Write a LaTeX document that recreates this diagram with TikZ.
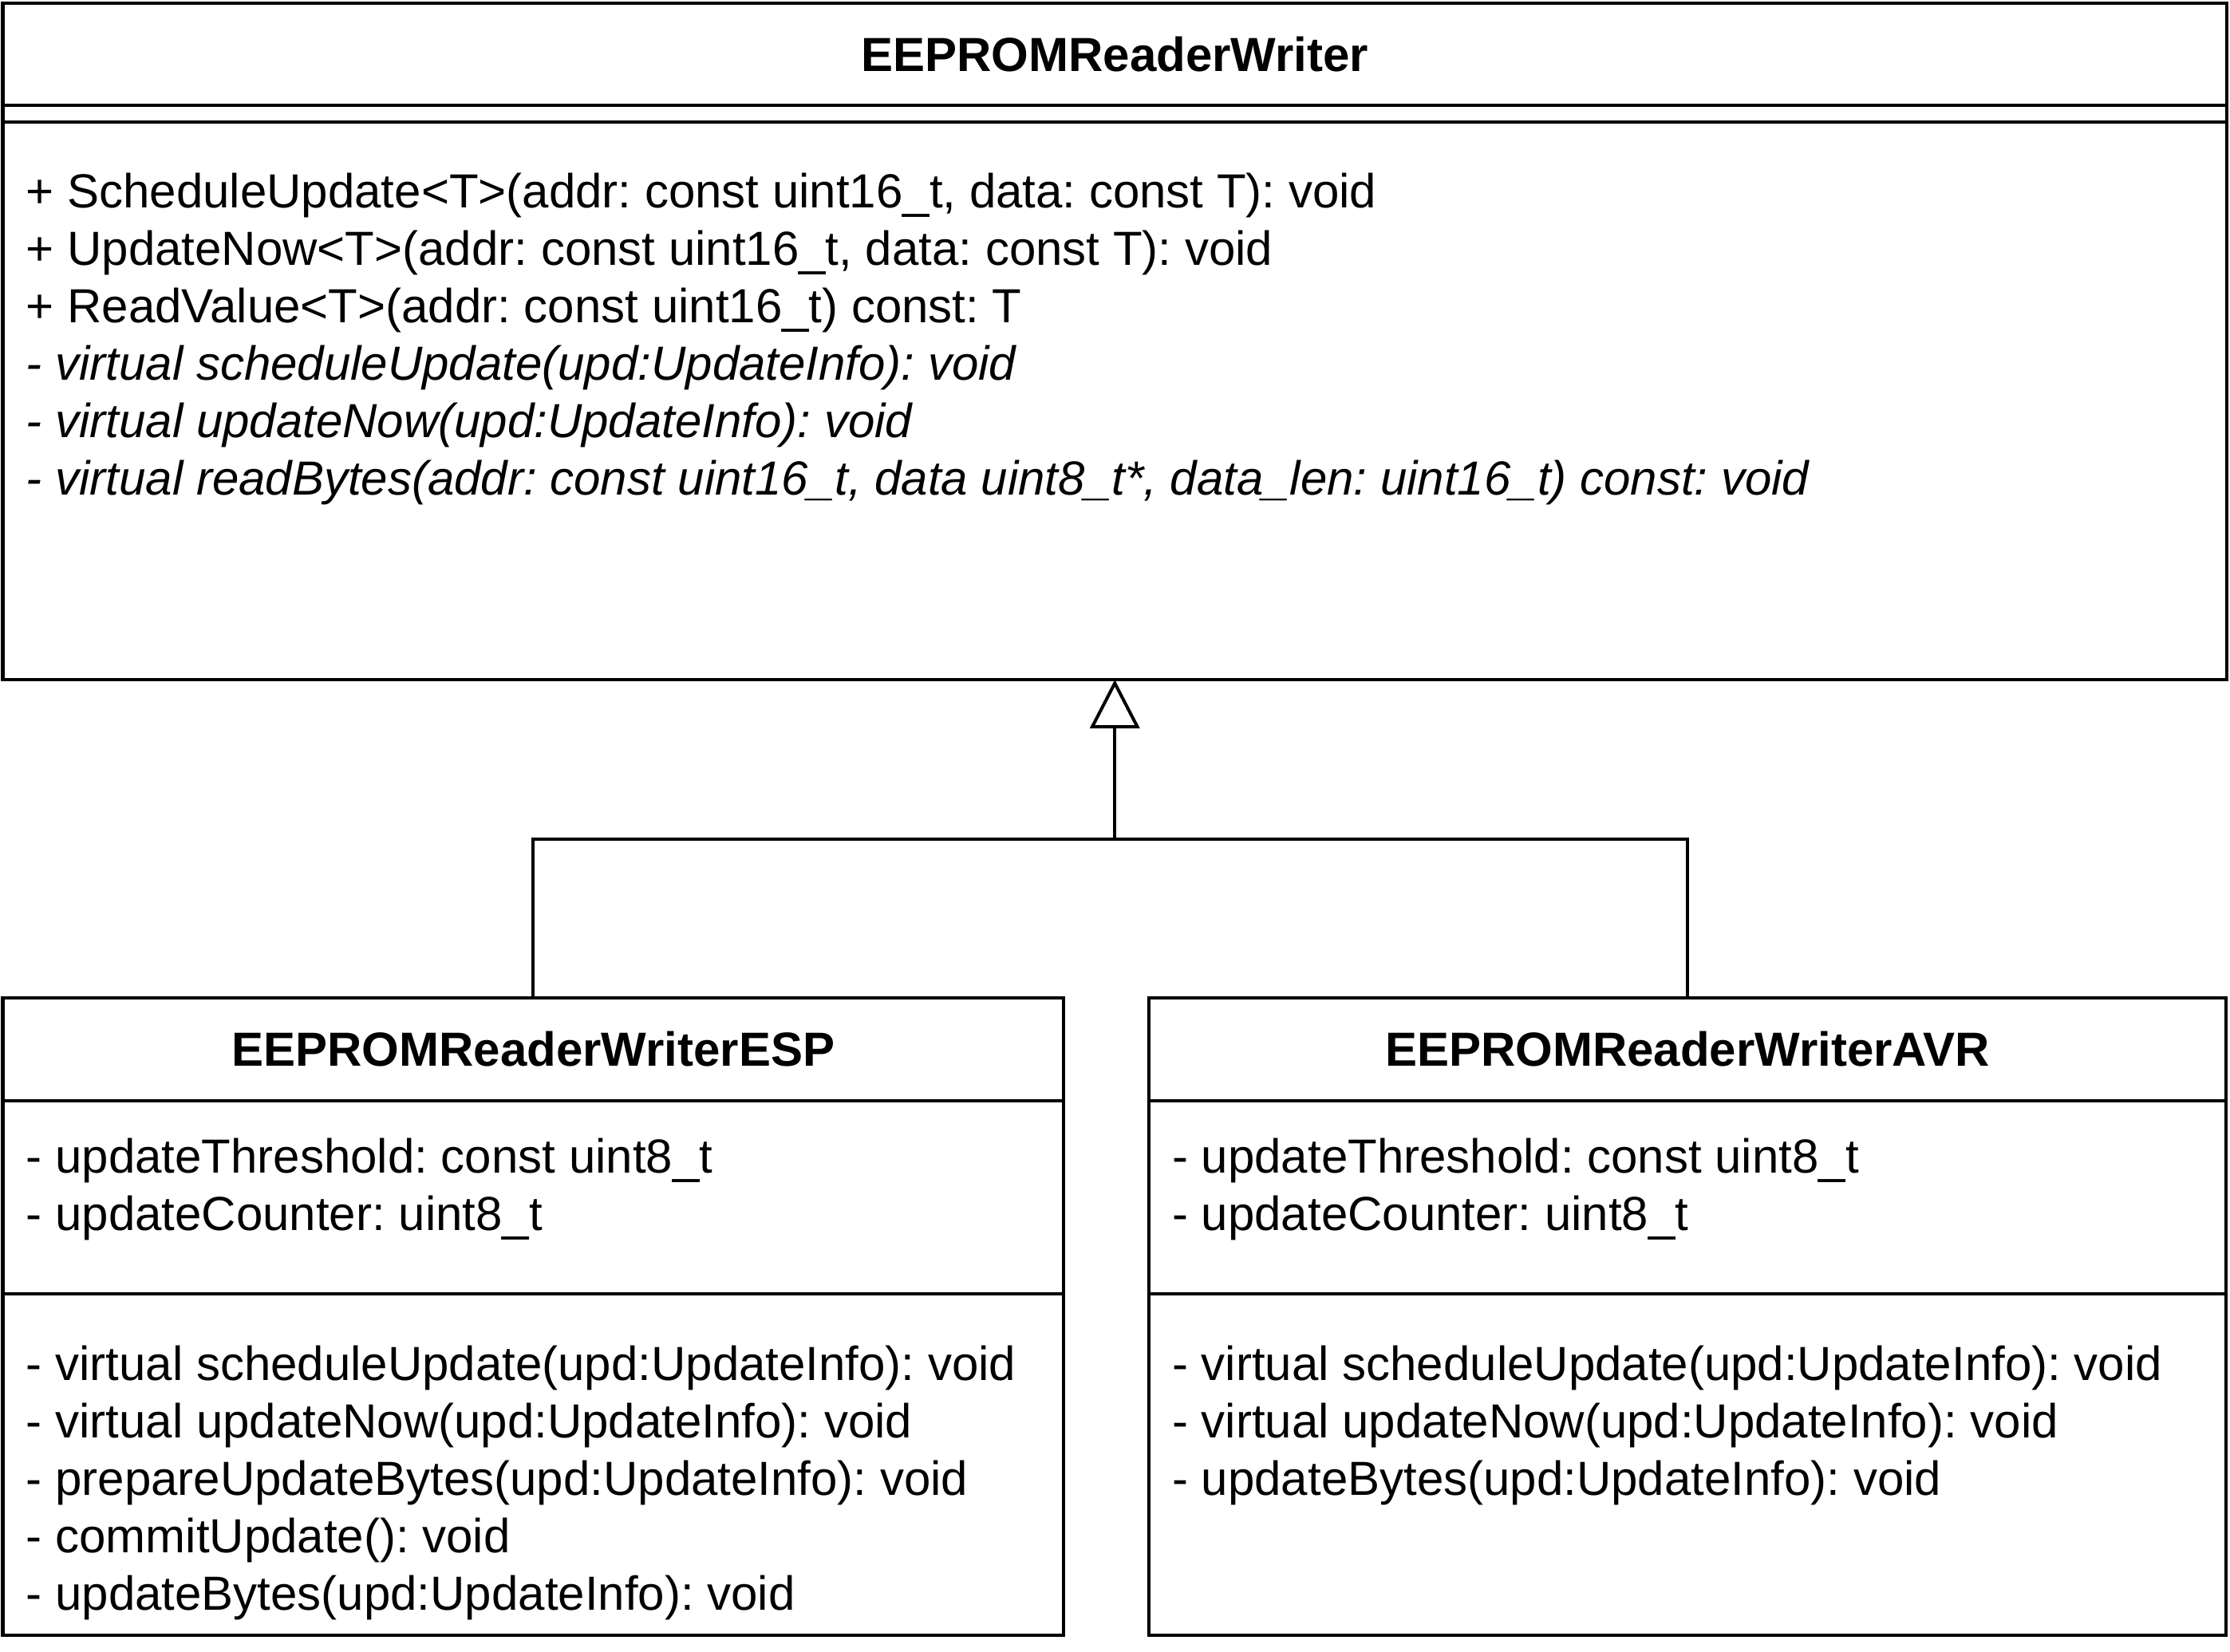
\documentclass[tikz,border=0pt]{standalone}
\usepackage{fontspec}
\setmainfont{Liberation Sans}
\frenchspacing
\usetikzlibrary{positioning,arrows.meta}
\tikzset{
  every node/.style={font=\fontsize{15}{18}\selectfont},
  part/.style={draw, line width=1pt, anchor=north west, inner sep=0pt, outer sep=0pt},
  member/.style={anchor=west, inner sep=0pt, text height=10.75pt, text depth=0pt},
  inherit/.style={line width=1pt},
}
\begin{document}
\begin{tikzpicture}
  \useasboundingbox (0,0) rectangle (698.75pt,-517.5pt);
  % base class
  \node[part, minimum width=696.875pt, minimum height=32.125pt] (baseHead) at (0.875pt,-0.875pt) {\bfseries EEPROMReaderWriter};
  \node[part, minimum width=696.875pt, minimum height=5.25pt, below=0pt of baseHead] (baseAttr) {};
  \node[part, minimum width=696.875pt, minimum height=174.75pt, below=0pt of baseAttr] (baseOps) {};
  \foreach \txt [count=\i] in {%
      {+ ScheduleUpdate<T>(addr: const uint16\_t, data: const T): void},
      {+ UpdateNow<T>(addr: const uint16\_t, data: const T): void},
      {+ ReadValue<T>(addr: const uint16\_t) const: T},
      {\itshape - virtual scheduleUpdate(upd:UpdateInfo): void},
      {\itshape - virtual updateNow(upd:UpdateInfo): void},
      {\itshape - virtual readBytes(addr: const uint16\_t, data uint8\_t*, data\_len: uint16\_t) const: void}}
    \node[member] at ([xshift=7.125pt, yshift={-21.5pt-(\i-1)*18pt}]baseOps.north west) {\txt};

  % ESP class
  \node[part, minimum width=332.375pt, minimum height=32.25pt] (espHead) at (0.875pt,-312.75pt) {\bfseries EEPROMReaderWriterESP};
  \node[part, minimum width=332.375pt, minimum height=60.5pt, below=0pt of espHead] (espAttr) {};
  \node[part, minimum width=332.375pt, minimum height=107pt, below=0pt of espAttr] (espOps) {};
  \foreach \txt [count=\i] in {%
      {- updateThreshold: const uint8\_t},
      {- updateCounter: uint8\_t}}
    \node[member] at ([xshift=7.125pt, yshift={-17.25pt-(\i-1)*18pt}]espAttr.north west) {\txt};
  \foreach \txt [count=\i] in {%
      {- virtual scheduleUpdate(upd:UpdateInfo): void},
      {- virtual updateNow(upd:UpdateInfo): void},
      {- prepareUpdateBytes(upd:UpdateInfo): void},
      {- commitUpdate(): void},
      {- updateBytes(upd:UpdateInfo): void}}
    \node[member] at ([xshift=7.125pt, yshift={-21.75pt-(\i-1)*18pt}]espOps.north west) {\txt};

  % AVR class
  \node[part, minimum width=337.5pt, minimum height=32.25pt] (avrHead) at (360pt,-312.75pt) {\bfseries EEPROMReaderWriterAVR};
  \node[part, minimum width=337.5pt, minimum height=60.5pt, below=0pt of avrHead] (avrAttr) {};
  \node[part, minimum width=337.5pt, minimum height=107pt, below=0pt of avrAttr] (avrOps) {};
  \foreach \txt [count=\i] in {%
      {- updateThreshold: const uint8\_t},
      {- updateCounter: uint8\_t}}
    \node[member] at ([xshift=7.125pt, yshift={-17.25pt-(\i-1)*18pt}]avrAttr.north west) {\txt};
  \foreach \txt [count=\i] in {%
      {- virtual scheduleUpdate(upd:UpdateInfo): void},
      {- virtual updateNow(upd:UpdateInfo): void},
      {- updateBytes(upd:UpdateInfo): void}}
    \node[member] at ([xshift=7.125pt, yshift={-21.75pt-(\i-1)*18pt}]avrOps.north west) {\txt};

  % generalization
  \coordinate[below=50pt of baseOps.south] (hub);
  \draw[inherit] (espHead.north) |- (hub);
  \draw[inherit] (avrHead.north) |- (hub);
  \draw[inherit, -{Triangle[open, length=15.25pt, width=15.5pt]}] (hub) -- (baseOps.south);
\end{tikzpicture}
\end{document}
